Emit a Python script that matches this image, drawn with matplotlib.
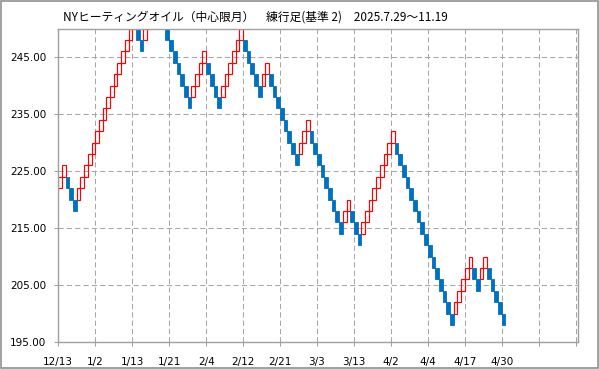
import matplotlib.pyplot as plt
import numpy as np
from matplotlib.patches import Rectangle

# 練行足 (基準 2) : 各ボックスの下値
box_size = 2
box_low = [222, 224, 222, 220, 218, 220, 222, 224, 226, 228,
           230, 232, 234, 236, 238, 240, 242, 244, 246, 248,
           250, 248, 246, 248, 250, 252, 254, 252, 250, 248,
           246, 244, 242, 240, 238, 236, 238, 240, 242, 244,
           242, 240, 238, 236, 238, 240, 242, 244, 246, 248,
           246, 244, 242, 240, 238, 240, 242, 240, 238, 236,
           234, 232, 230, 228, 226, 228, 230, 232, 230, 228,
           226, 224, 222, 220, 218, 216, 214, 216, 218, 216,
           214, 212, 214, 216, 218, 220, 222, 224, 226, 228,
           230, 228, 226, 224, 222, 220, 218, 216, 214, 212,
           210, 208, 206, 204, 202, 200, 198, 200, 202, 204,
           206, 208, 206, 204, 206, 208, 206, 204, 202, 200,
           198]
date_labels = ['12/13', '1/2', '1/13', '1/21', '2/4', '2/12', '2/21',
               '3/3', '3/13', '4/2', '4/4', '4/17', '4/30', '', '']
y_ticks = [195, 205, 215, 225, 235, 245]
title = 'NYヒーティングオイル（中心限月）　練行足(基準 2)　2025.7.29〜11.19'

low = np.array(box_low)
x = np.arange(len(low))
up = np.r_[True, low[1:] > low[:-1]]

fig = plt.figure(figsize=(5.99, 3.69), dpi=100)
ax = fig.add_axes([58.3 / 599, 27 / 369, 520 / 599, 313.5 / 369])

# 陽線は赤枠、陰線は青塗り
ax.bar(x[up], box_size, bottom=low[up], width=1, align='edge',
       fill=False, edgecolor='#ff0000', linewidth=0.85)
ax.bar(x[~up], box_size, bottom=low[~up], width=1, align='edge',
       color='#0070c0', edgecolor='#0070c0', linewidth=0.6)

ax.set_xlim(0, 140.7)
ax.set_ylim(195, 250)
ax.set_xticks(np.arange(0, 10 * len(date_labels), 10))
ax.set_xticklabels(date_labels)
ax.set_yticks(y_ticks)
ax.set_yticklabels(['%.2f' % v for v in y_ticks])

ax.set_axisbelow(True)
ax.grid(True, color='#a6a6a6', linestyle=(0, (5, 3)), linewidth=0.75)
for s in ax.spines.values():
    s.set_color('#a0a0a0')
    s.set_linewidth(1.0)
ax.tick_params(axis='both', color='#a0a0a0', length=3, width=0.75,
               labelsize=7.5, labelcolor='#000000')
ax.tick_params(axis='x', pad=8)
ax.tick_params(axis='y', pad=5.5)
for lbl in ax.get_xticklabels() + ax.get_yticklabels():
    lbl.set_family('DejaVu Sans')

fig.text(63.3 / 599, 1 - 16.7 / 369, title, ha='left', va='center',
         fontsize=8.5, family=['Noto Sans CJK JP', 'DejaVu Sans'])

# 外枠
fig.patches.append(Rectangle((0.001, 0.002), 0.997, 0.995, transform=fig.transFigure,
                             fill=False, edgecolor='#909090', linewidth=1.2))

fig.savefig('out.png', dpi=100)
